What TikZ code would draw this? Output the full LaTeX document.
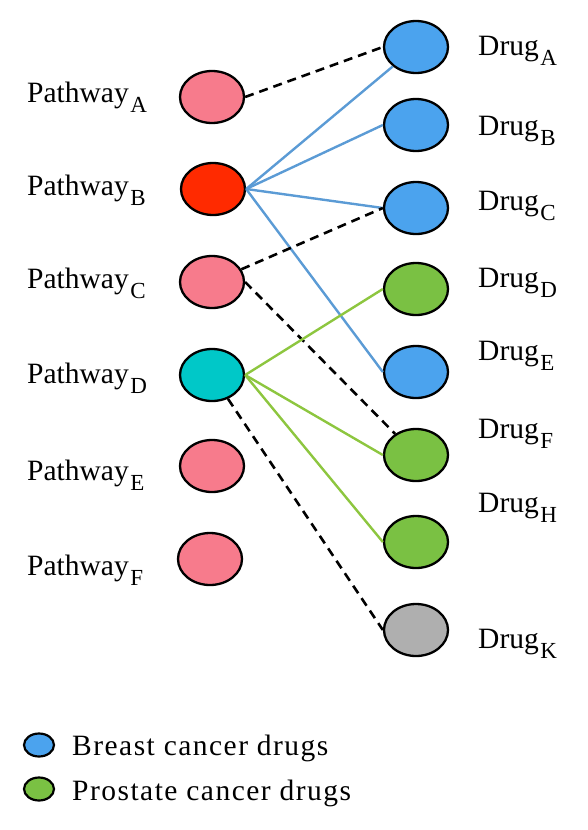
\documentclass[tikz,border=0pt]{standalone}
\usepackage{fontspec}
\setmainfont{Liberation Serif}
\usetikzlibrary{shapes.geometric}
\definecolor{pinkc}{HTML}{F77B8C}
\definecolor{redc}{HTML}{FF2A00}
\definecolor{cyanc}{HTML}{00C8C8}
\definecolor{bluec}{HTML}{4BA3EE}
\definecolor{greenc}{HTML}{7AC143}
\definecolor{grayc}{HTML}{AFAFAF}
\definecolor{blueline}{HTML}{5B9BD5}
\definecolor{greenline}{HTML}{8DC63F}
\newcommand\sbs[1]{\kern1.5pt\raisebox{-10pt}{\fontsize{23}{23}\selectfont #1}}
\tikzset{
  ell/.style={ellipse, draw=black, line width=2.3pt, minimum width=64pt, minimum height=52pt, inner sep=0pt},
  lell/.style={ellipse, draw=black, line width=2.2pt, minimum width=30pt, minimum height=23pt, inner sep=0pt},
  lbl/.style={anchor=base west, inner sep=0pt, font=\fontsize{29.5}{29.5}\selectfont},
  leg/.style={anchor=base west, inner sep=0pt, font=\fontsize{29.5}{29.5}\selectfont\addfontfeature{LetterSpace=5}},
  dsh/.style={draw=black, line width=2.6pt, dash pattern=on 9pt off 6pt},
  bl/.style={draw=blueline, line width=2.4pt},
  gl/.style={draw=greenline, line width=2.4pt}
}
\begin{document}
\begin{tikzpicture}[x=1pt,y=-1pt]
\useasboundingbox (0,0) rectangle (588,830);
% left ellipses
\node[ell, fill=pinkc] (A) at (212,97) {};
\node[ell, fill=redc] (B) at (213,189) {};
\node[ell, fill=pinkc] (C) at (212,282) {};
\node[ell, fill=cyanc] (D) at (212,375) {};
\node[ell, fill=pinkc] (E) at (212,466) {};
\node[ell, fill=pinkc] (F) at (210,559) {};
% right ellipses
\node[ell, fill=bluec] (dA) at (416,47) {};
\node[ell, fill=bluec] (dB) at (416,125) {};
\node[ell, fill=bluec] (dC) at (416,208) {};
\node[ell, fill=greenc] (dD) at (416,289) {};
\node[ell, fill=bluec] (dE) at (416,372) {};
\node[ell, fill=greenc] (dF) at (416,455) {};
\node[ell, fill=greenc] (dH) at (416,542) {};
\node[ell, fill=grayc] (dK) at (416,630) {};
% labels
\node[lbl] (lA) at (27,102) {Pathway\sbs{A}};
\node[lbl] (lB) at (27,195) {Pathway\sbs{B}};
\node[lbl] (lC) at (27,288) {Pathway\sbs{C}};
\node[lbl] (lD) at (27,383) {Pathway\sbs{D}};
\node[lbl] (lE) at (27,480) {Pathway\sbs{E}};
\node[lbl] (lF) at (27,575) {Pathway\sbs{F}};
\node[lbl] (ldA) at (478,55) {Drug\sbs{A}};
\node[lbl] (ldB) at (478,135) {Drug\sbs{B}};
\node[lbl] (ldC) at (478,210) {Drug\sbs{C}};
\node[lbl] (ldD) at (478,287) {Drug\sbs{D}};
\node[lbl] (ldE) at (478,360) {Drug\sbs{E}};
\node[lbl] (ldF) at (478,438) {Drug\sbs{F}};
\node[lbl] (ldH) at (478,512) {Drug\sbs{H}};
\node[lbl] (ldK) at (478,648) {Drug\sbs{K}};
% legend
\node[lell, fill=bluec] (g1) at (39,745) {};
\node[lell, fill=greenc] (g2) at (39,789) {};
\node[leg] (t1) at (72,755) {Breast cancer drugs};
\node[leg] (t2) at (72,800) {Prostate cancer drugs};
% edges
\draw[dsh] (A.east) -- (dA.west);
\draw[bl] (B.east) -- (dA);
\draw[bl] (B.east) -- (dB.west);
\draw[bl] (B.east) -- (dC.west);
\draw[bl] (B.east) -- (dE.west);
\draw[dsh] (C) -- (dC.west);
\draw[dsh] (C.east) -- (dF);
\draw[gl] (D.east) -- (dD.west);
\draw[gl] (D.east) -- (dF.west);
\draw[gl] (D.east) -- (dH.west);
\draw[dsh] (D) -- (dK.west);
\end{tikzpicture}
\end{document}
